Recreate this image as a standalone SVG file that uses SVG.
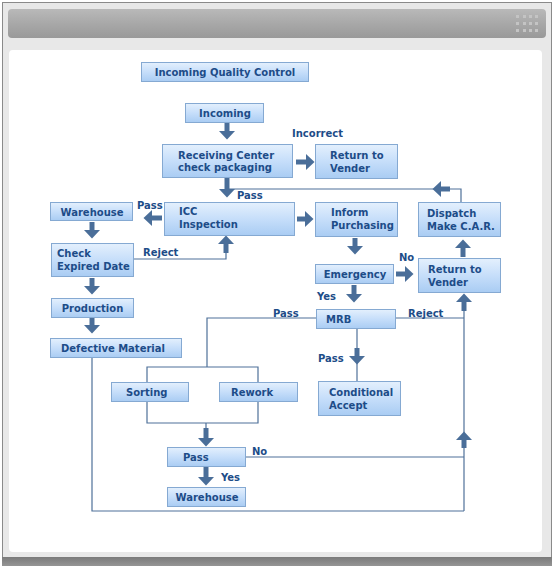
<svg xmlns="http://www.w3.org/2000/svg" width="554" height="568" viewBox="0 0 554 568">
<defs>
<linearGradient id="gNode" x1="0" y1="0" x2="0" y2="1">
<stop offset="0" stop-color="#e4f0fd"/>
<stop offset="0.5" stop-color="#c6defa"/>
<stop offset="1" stop-color="#a9ccf3"/>
</linearGradient>
<linearGradient id="gHead" x1="0" y1="0" x2="0" y2="1">
<stop offset="0" stop-color="#b9b9b9"/>
<stop offset="0.5" stop-color="#a8a8a8"/>
<stop offset="1" stop-color="#999999"/>
</linearGradient>
<linearGradient id="gFoot" x1="0" y1="0" x2="0" y2="1">
<stop offset="0" stop-color="#7a7a7a"/>
<stop offset="1" stop-color="#959595"/>
</linearGradient>
<marker id="ah" markerUnits="userSpaceOnUse" markerWidth="9" markerHeight="16" refX="0" refY="8" orient="auto">
<path d="M0,0 L8.5,8 L0,16 Z" fill="#4a6e99"/>
</marker>
<style>
.box{fill:url(#gNode);stroke:#85a9d2;stroke-width:1}
.t{font-family:"DejaVu Sans",Verdana,sans-serif;font-size:10px;font-weight:bold;fill:#1d4c88}
.c{text-anchor:middle}
.ln{fill:none;stroke:#4f7199;stroke-width:1.2}
.ar{stroke:#4a6e99;stroke-width:5;marker-end:url(#ah)}
</style>
</defs>

<!-- frame -->
<rect x="2.5" y="2.5" width="549" height="556" fill="#e8e8e8" stroke="#8a8a8a" stroke-width="1"/>
<rect x="8" y="9" width="538" height="29" rx="4" fill="url(#gHead)"/>
<g fill="#c4c4c4">
<rect x="516" y="15" width="3" height="3"/><rect x="523" y="15" width="3" height="3"/><rect x="529" y="15" width="3" height="3"/><rect x="535" y="15" width="3" height="3"/>
<rect x="516" y="22" width="3" height="3"/><rect x="523" y="22" width="3" height="3"/><rect x="529" y="22" width="3" height="3"/><rect x="535" y="22" width="3" height="3"/>
<rect x="516" y="29" width="3" height="3"/><rect x="523" y="29" width="3" height="3"/><rect x="529" y="29" width="3" height="3"/><rect x="535" y="29" width="3" height="3"/>
</g>
<rect x="9" y="50" width="533" height="502" rx="4" fill="#ffffff"/>
<rect x="2" y="557" width="550" height="9" fill="url(#gFoot)"/>

<!-- connectors -->
<g id="connectors">
<polyline class="ln" points="227,189 461,189 461,202"/>
<polyline class="ln" points="134,259 226,259 226,252"/>
<polyline class="ln" points="316,318 207,318 207,367"/>
<polyline class="ln" points="147,382 147,367 258,367 258,382"/>
<polyline class="ln" points="147,402 147,423 258,423 258,402"/>
<line class="ln" x1="206" y1="423" x2="206" y2="429"/>
<line class="ln" x1="396" y1="318" x2="464" y2="318"/>
<line class="ln" x1="464" y1="305" x2="464" y2="511"/>
<line class="ln" x1="246" y1="457" x2="464" y2="457"/>
<polyline class="ln" points="92,358 92,511 464,511"/>
<line class="ln" x1="357" y1="329" x2="357" y2="381"/>

<line class="ar" x1="227" y1="123" x2="227" y2="131"/>
<line class="ar" x1="227" y1="178" x2="227" y2="189"/>
<line class="ar" x1="296" y1="162" x2="306" y2="162"/>
<line class="ar" x1="162" y1="218" x2="152" y2="218"/>
<line class="ar" x1="297" y1="219" x2="305" y2="219"/>
<line class="ar" x1="450" y1="189" x2="441" y2="189"/>
<line class="ar" x1="92" y1="222" x2="92" y2="230"/>
<line class="ar" x1="226" y1="253" x2="226" y2="244"/>
<line class="ar" x1="355" y1="238" x2="355" y2="246"/>
<line class="ar" x1="463" y1="257" x2="463" y2="248"/>
<line class="ar" x1="396" y1="274" x2="405" y2="274"/>
<line class="ar" x1="92" y1="278" x2="92" y2="286"/>
<line class="ar" x1="354" y1="285" x2="354" y2="294"/>
<line class="ar" x1="92" y1="318" x2="92" y2="325"/>
<line class="ar" x1="464" y1="311" x2="464" y2="302"/>
<line class="ar" x1="357" y1="348" x2="357" y2="356"/>
<line class="ar" x1="464" y1="448" x2="464" y2="440"/>
<line class="ar" x1="206" y1="428" x2="206" y2="438"/>
<line class="ar" x1="206" y1="467" x2="206" y2="477"/>

<g class="t">
<text x="292" y="137">Incorrect</text>
<text x="237" y="199">Pass</text>
<text x="137" y="209">Pass</text>
<text x="143" y="256">Reject</text>
<text x="399" y="261">No</text>
<text x="317" y="300">Yes</text>
<text x="273" y="317">Pass</text>
<text x="408" y="317">Reject</text>
<text x="318" y="362">Pass</text>
<text x="252" y="455">No</text>
<text x="221" y="481">Yes</text>
</g>
</g>

<!-- nodes -->
<g id="iqc"><rect class="box" x="141.5" y="62.5" width="167" height="19"/><text class="t c" x="225" y="76">Incoming Quality Control</text></g>
<g id="incoming"><rect class="box" x="185.5" y="103.5" width="78" height="19"/><text class="t c" x="225" y="117">Incoming</text></g>
<g id="receiving"><rect class="box" x="162.5" y="144.5" width="130" height="33"/><text class="t" x="178" y="158.5">Receiving Center</text><text class="t" x="178" y="171">check packaging</text></g>
<g id="return1"><rect class="box" x="315.5" y="144.5" width="82" height="34"/><text class="t" x="330" y="159">Return to</text><text class="t" x="330" y="171.5">Vender</text></g>
<g id="warehouse1"><rect class="box" x="50.5" y="202.5" width="82" height="18"/><text class="t c" x="92" y="215.5">Warehouse</text></g>
<g id="icc"><rect class="box" x="164.5" y="202.5" width="130" height="33"/><text class="t" x="179" y="215">ICC</text><text class="t" x="179" y="228">Inspection</text></g>
<g id="inform"><rect class="box" x="315.5" y="202.5" width="82" height="34"/><text class="t" x="331" y="216">Inform</text><text class="t" x="331" y="229">Purchasing</text></g>
<g id="dispatch"><rect class="box" x="418.5" y="202.5" width="82" height="34"/><text class="t" x="427" y="217">Dispatch</text><text class="t" x="427" y="230">Make C.A.R.</text></g>
<g id="checkdate"><rect class="box" x="51.5" y="243.5" width="82" height="33"/><text class="t" x="57" y="257">Check</text><text class="t" x="57" y="270">Expired Date</text></g>
<g id="emergency"><rect class="box" x="315.5" y="264.5" width="78" height="19"/><text class="t c" x="355" y="278">Emergency</text></g>
<g id="return2"><rect class="box" x="418.5" y="258.5" width="82" height="34"/><text class="t" x="428" y="273">Return to</text><text class="t" x="428" y="286">Vender</text></g>
<g id="production"><rect class="box" x="51.5" y="298.5" width="82" height="19"/><text class="t c" x="92.5" y="312">Production</text></g>
<g id="mrb"><rect class="box" x="316.5" y="309.5" width="79" height="19"/><text class="t" x="326" y="323">MRB</text></g>
<g id="defective"><rect class="box" x="50.5" y="338.5" width="131" height="19"/><text class="t c" x="113" y="352">Defective Material</text></g>
<g id="sorting"><rect class="box" x="111.5" y="382.5" width="77" height="19"/><text class="t" x="126" y="396">Sorting</text></g>
<g id="rework"><rect class="box" x="219.5" y="382.5" width="78" height="19"/><text class="t" x="231" y="396">Rework</text></g>
<g id="conditional"><rect class="box" x="318.5" y="381.5" width="82" height="34"/><text class="t" x="329" y="396">Conditional</text><text class="t" x="329" y="409">Accept</text></g>
<g id="pass"><rect class="box" x="167.5" y="447.5" width="78" height="19"/><text class="t" x="183" y="461">Pass</text></g>
<g id="warehouse2"><rect class="box" x="167.5" y="487.5" width="78" height="19"/><text class="t c" x="207" y="501">Warehouse</text></g>
</svg>
